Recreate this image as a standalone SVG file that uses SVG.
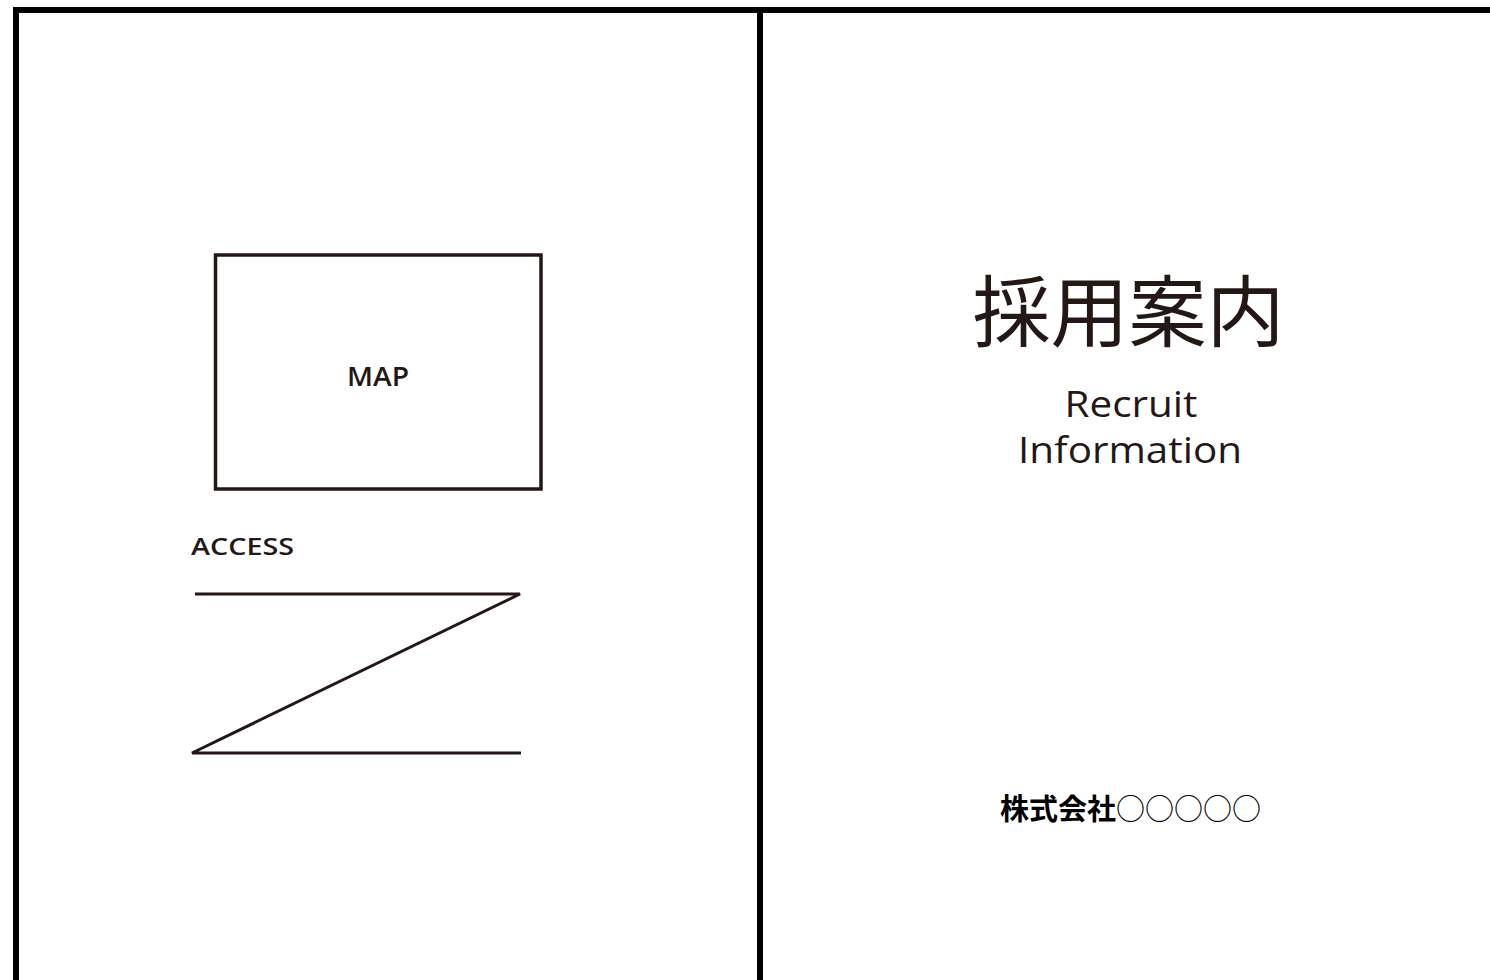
<svg xmlns="http://www.w3.org/2000/svg" width="1490" height="980" viewBox="0 0 1490 980">
<style>
.frame{stroke:#000;stroke-width:6;fill:none}
.ink{stroke:#231815;fill:none}
.lat{font-family:"Open Sans","Noto Sans","Liberation Sans",sans-serif;fill:#231815}
.jp{font-family:"Noto Sans CJK JP","Noto Sans",sans-serif;fill:#231815}
</style>
<rect width="1490" height="980" fill="#fff"/>
<g id="frame">
<line class="frame" x1="13" y1="10" x2="1490" y2="10"/>
<line class="frame" x1="16" y1="7" x2="16" y2="980"/>
<line class="frame" x1="760" y1="7" x2="760" y2="980"/>
</g>
<g id="map">
<rect class="ink" x="215.5" y="255" width="325.5" height="234" stroke-width="3.5"/>
<text class="lat" x="378" y="386" font-size="27" font-weight="600" text-anchor="middle" textLength="62" lengthAdjust="spacingAndGlyphs">MAP</text>
</g>
<g id="access">
<text class="lat" x="191" y="555" font-size="24" font-weight="600" textLength="103" lengthAdjust="spacingAndGlyphs">ACCESS</text>
<polyline class="ink" stroke-width="3" stroke-linejoin="miter" points="195,594 520,594 192,753 521,753"/>
</g>
<g id="title">
<text class="jp" x="1128.5" y="341" font-size="78" font-weight="400" text-anchor="middle">採用案内</text>
<text class="lat" x="1131" y="417" font-size="36" text-anchor="middle" textLength="133" lengthAdjust="spacingAndGlyphs">Recruit</text>
<text class="lat" x="1130" y="463" font-size="36" text-anchor="middle" textLength="224" lengthAdjust="spacingAndGlyphs">Information</text>
</g>
<g id="company">
<text class="jp" x="1000" y="820" font-size="29"><tspan font-weight="700" fill="#000">株式会社</tspan><tspan font-weight="400" fill="#000">○○○○○</tspan></text>
</g>
</svg>
